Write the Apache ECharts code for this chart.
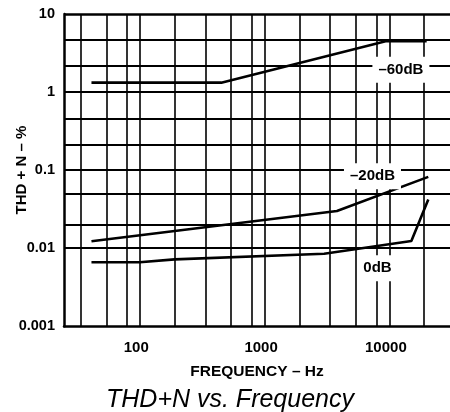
<!DOCTYPE html>
<html>
<head>
<meta charset="utf-8">
<script src="https://cdn.jsdelivr.net/npm/echarts@6/dist/echarts.min.js"></script>
<style>
html,body{margin:0;padding:0;background:#fff;}
#chart{width:450px;height:412px;}
</style>
</head>
<body>
<div id="chart"></div>
<script>
// ---- data ----
const xTickLabels = [100, 1000, 10000];
const yTickLabels = [0.001, 0.01, 0.1, 1, 10];
const freqGridHz = [33.5, 54, 79, 100, 190, 335, 540, 790, 1000, 1900, 3350, 5400, 7900, 10000, 19000];
const thdGridPct = [10, 4.64, 2.15, 1, 0.464, 0.215, 0.1, 0.0464, 0.0215, 0.01, 0.00464, 0.00215];
const seriesNames = ['–60dB', '–20dB', '0dB'];
const freq60 = [41, 450, 9500, 19900];
const thd60 = [1.32, 1.32, 4.5, 4.5];
const freq20 = [41, 3800, 20500];
const thd20 = [0.0123, 0.030, 0.082];
const freq0 = [41, 100, 190, 3000, 15000, 20500];
const thd0 = [0.0066, 0.0066, 0.0072, 0.0085, 0.0124, 0.042];
const labelFreq = [12370, 7320, 8030];
const labelThd = [1.93, 0.0833, 0.00554];

const FONT = 'Liberation Sans, Arial, Helvetica, sans-serif';
const zip = (a, b) => a.map((v, i) => [v, b[i]]);
const matchTick = (v, list) => {
  const t = list.find(t => Math.abs(v / t - 1) < 1e-6);
  return t === undefined ? '' : String(t);
};

const chart = echarts.init(document.getElementById('chart'), null, {renderer: 'canvas'});

const gridLineSeries = {
  type: 'line',
  data: [],
  silent: true,
  z: 1,
  markLine: {
    silent: true,
    animation: false,
    symbol: ['none', 'none'],
    label: {show: false},
    emphasis: {disabled: true},
    data: [
      ...freqGridHz.map(f => ({xAxis: f, lineStyle: {color: '#000', width: 1.6, type: 'solid'}})),
      ...thdGridPct.map(v => ({yAxis: v, lineStyle: {color: '#000', width: v === 10 ? 2.5 : 2, type: 'solid'}}))
    ]
  }
};

const curveSeries = [zip(freq60, thd60), zip(freq20, thd20), zip(freq0, thd0)].map((d, i) => ({
  name: seriesNames[i],
  type: 'line',
  data: d,
  symbol: 'none',
  z: 3,
  lineStyle: {color: '#000', width: 2.6},
  emphasis: {disabled: true},
  animation: false
}));

const labelSeries = {
  type: 'scatter',
  z: 5,
  symbolSize: 0,
  silent: true,
  animation: false,
  itemStyle: {opacity: 1},
  data: seriesNames.map((n, i) => ({name: n, value: [labelFreq[i], labelThd[i]]})),
  label: {
    show: true,
    position: 'inside',
    formatter: p => p.name,
    color: '#000',
    opacity: 1,
    fontFamily: FONT,
    fontWeight: 'bold',
    fontSize: 15,
    backgroundColor: '#ffffff',
    padding: [10, 6, 1, 6]
  }
};

chart.setOption({
  animation: false,
  backgroundColor: '#fff',
  title: {
    text: 'THD+N vs. Frequency',
    left: 106,
    top: 388,
    padding: 0,
    textStyle: {fontFamily: FONT, fontStyle: 'italic', fontWeight: 'normal', fontSize: 25, color: '#000'}
  },
  grid: {left: 64, top: 14, right: 0, bottom: 85.7, containLabel: false, outerBoundsMode: 'none'},
  xAxis: {
    type: 'log',
    logBase: 10,
    min: 24.7,
    max: 30600,
    name: 'FREQUENCY – Hz',
    nameLocation: 'middle',
    nameGap: 37,
    nameMoveOverlap: false,
    nameTextStyle: {fontFamily: FONT, fontWeight: 'bold', fontSize: 15.5, color: '#000'},
    axisLine: {show: true, lineStyle: {color: '#000', width: 2.5}},
    axisTick: {show: false},
    splitLine: {show: false},
    minorSplitLine: {show: false},
    axisLabel: {
      margin: 14,
      fontFamily: FONT,
      fontWeight: 'bold',
      fontSize: 15,
      color: '#000',
      padding: [0, 7, 0, 0],
      showMinLabel: false,
      showMaxLabel: false,
      formatter: v => matchTick(v, xTickLabels)
    }
  },
  yAxis: {
    type: 'log',
    logBase: 10,
    min: 0.001,
    max: 10,
    name: 'THD + N – %',
    nameLocation: 'middle',
    nameRotate: 90,
    nameGap: 35,
    nameMoveOverlap: false,
    nameTextStyle: {fontFamily: FONT, fontWeight: 'bold', fontSize: 15, color: '#000'},
    axisLine: {show: true, lineStyle: {color: '#000', width: 2.5}},
    axisTick: {show: false},
    splitLine: {show: false},
    axisLabel: {
      margin: 9,
      fontFamily: FONT,
      fontWeight: 'bold',
      fontSize: 14.5,
      color: '#000',
      formatter: v => matchTick(v, yTickLabels)
    }
  },
  series: [gridLineSeries, ...curveSeries, labelSeries]
});
</script>
</body>
</html>
